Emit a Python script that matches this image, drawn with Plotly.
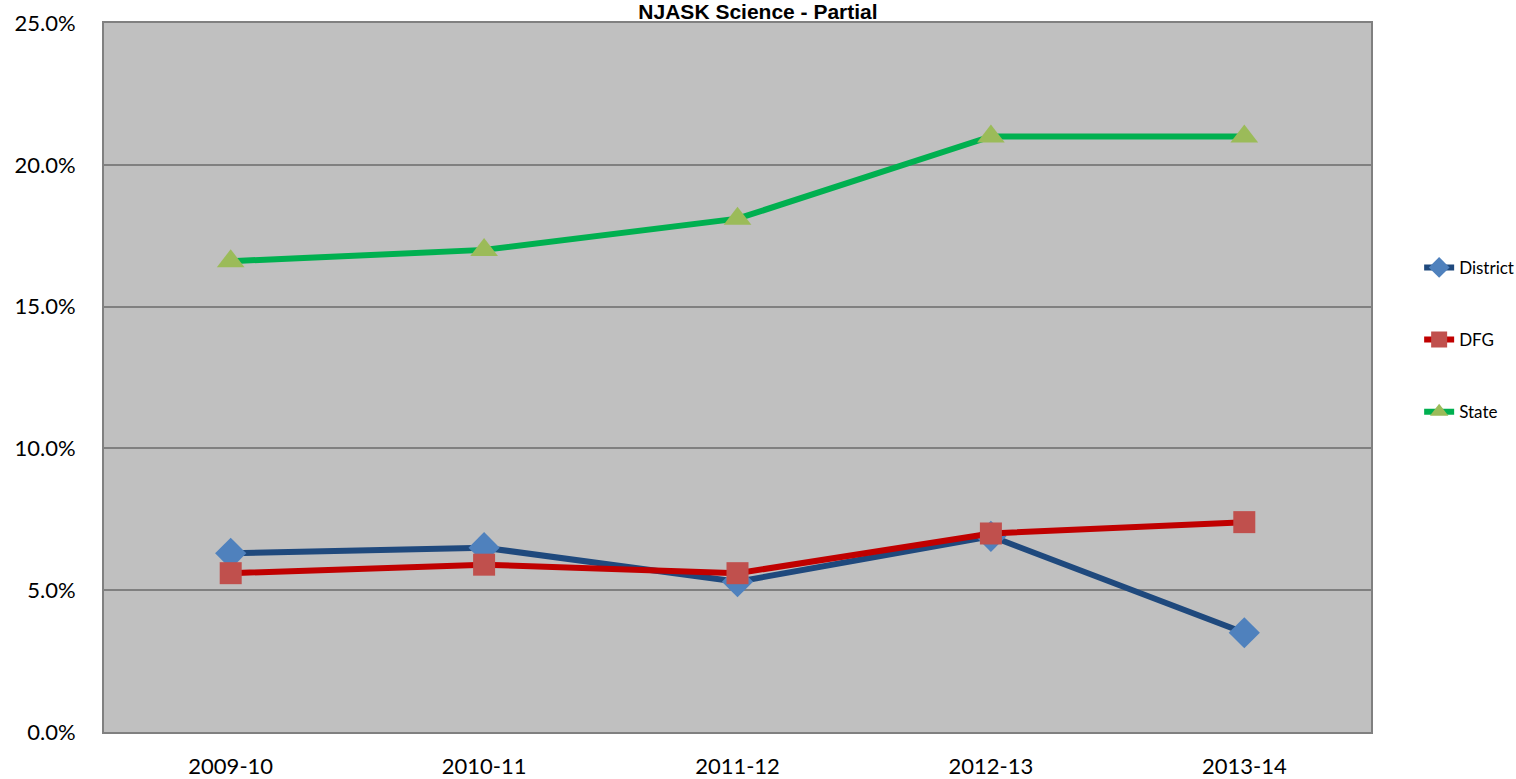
import plotly.graph_objects as go

years = ["2009-10", "2010-11", "2011-12", "2012-13", "2013-14"]
district = [0.063, 0.065, 0.053, 0.069, 0.035]
dfg = [0.056, 0.059, 0.056, 0.070, 0.074]
state = [0.166, 0.170, 0.181, 0.210, 0.210]

fig = go.Figure()
fig.add_trace(go.Scatter(
    x=years, y=district, name="District", mode="lines+markers", legendgroup="a",
    line=dict(color="#1F497D", width=6),
    marker=dict(symbol="diamond", size=24, color="#4F81BD"),
))
fig.add_trace(go.Scatter(
    x=years, y=dfg, name="DFG", mode="lines+markers", legendgroup="b",
    line=dict(color="#C00000", width=6),
    marker=dict(symbol="square", size=22, color="#C0504D"),
))
fig.add_trace(go.Scatter(
    x=years, y=state, name="State", mode="lines+markers", legendgroup="c",
    line=dict(color="#00B050", width=6),
    marker=dict(symbol="triangle-up", size=24, color="#9BBB59"),
))

fig.update_layout(
    width=1516, height=779,
    margin=dict(l=104, r=145, t=23, b=47, autoexpand=False),
    paper_bgcolor="white",
    plot_bgcolor="#C0C0C0",
    font=dict(family="Lato, 'Open Sans', sans-serif", color="black"),
    title=dict(text="<b>NJASK Science - Partial</b>", x=0.5, xanchor="center",
               y=1.0, yref="container", yanchor="top", pad=dict(t=4, b=0),
               font=dict(family="Liberation Sans, Arial, sans-serif", size=21, color="black")),
    legend=dict(x=1.038, xanchor="left", y=0.553, yanchor="middle",
                traceorder="grouped", tracegroupgap=47,
                font=dict(size=17), bgcolor="rgba(0,0,0,0)"),
    showlegend=True,
)
fig.update_xaxes(
    type="category", range=[-0.5, 4.5], automargin=False,
    showline=True, linecolor="#808080", linewidth=2, mirror=True,
    showgrid=False, tickfont=dict(size=22), ticks="", ticklabelstandoff=14,
)
fig.update_yaxes(
    range=[0, 0.25], dtick=0.05, tickformat=".1%", automargin=False,
    showline=True, linecolor="#808080", linewidth=2, mirror=True,
    showgrid=True, gridcolor="#808080", gridwidth=2, zeroline=False,
    tickfont=dict(size=22), ticks="", ticklabelstandoff=22,
)
fig.write_html("out.html", config={"displayModeBar": False},
               post_script="document.body.style.margin='0';document.body.style.overflow='hidden';")
